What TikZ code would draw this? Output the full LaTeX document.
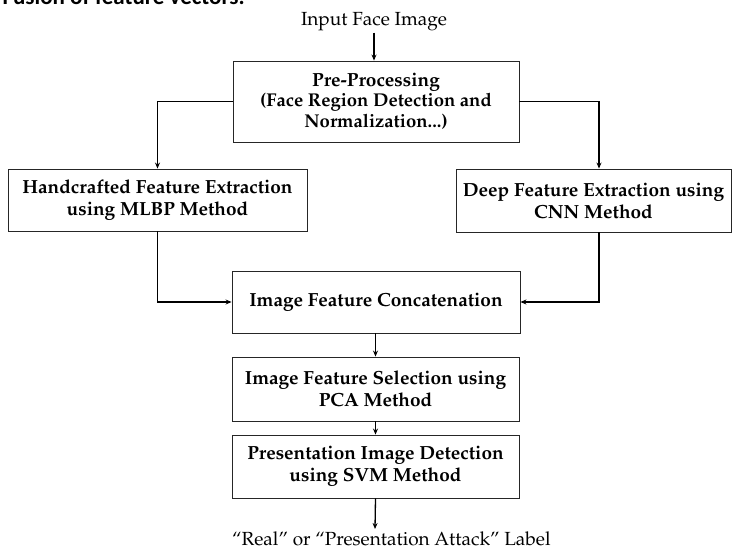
\documentclass[tikz,border=0pt]{standalone}
\usepackage{fontspec}
\usepackage[T1,TU]{fontenc}
\newfontfamily\capfont{Carlito}
\newcommand\palfont{\fontencoding{T1}\fontfamily{ppl}\selectfont}
\newcommand\subline{\palfont\bfseries\fontsize{18.5}{19}\selectfont}
\usetikzlibrary{arrows.meta}
\tikzset{
  x=1pt, y=-1pt,
  box/.style={draw=black!85, line width=0.9pt, rectangle, align=center, inner sep=0pt,
    font=\palfont\bfseries\fontsize{19}{22}\selectfont},
  plain/.style={inner sep=1pt, font=\palfont\fontsize{19}{22}\selectfont},
  arr/.style={draw=black, line width=1.3pt, -{Stealth[length=6pt,width=5pt]}}
}
\begin{document}
\begin{tikzpicture}
\useasboundingbox (0,0) rectangle (732,554);
\node[anchor=base east, inner sep=0pt, font=\capfont\bfseries\fontsize{23}{26}\selectfont] (cap) at (245,5) {Fusion of feature vectors.};
\node[plain, anchor=base] (in) at (374,26) {Input Face Image};
\node[box, minimum width=286pt, minimum height=81pt] (pre) at (376,101.5)
  {Pre-Processing\\[-2.5pt]{\subline(Face Region Detection and}\\[-1pt]{\subline Normalization...)}};
\node[box, minimum width=299pt, minimum height=62pt] (hand) at (157.5,200)
  {Handcrafted Feature Extraction\\using MLBP Method};
\node[box, minimum width=275pt, minimum height=63pt] (deep) at (593.5,200.5)
  {Deep Feature Extraction using\\CNN Method};
\node[box, minimum width=288pt, minimum height=62pt] (cat) at (376,302)
  {Image Feature Concatenation};
\node[box, minimum width=287pt, minimum height=64pt] (sel) at (375.5,389)
  {Image Feature Selection using\\PCA Method};
\node[box, minimum width=287pt, minimum height=63pt] (pid) at (375.5,466.5)
  {Presentation Image Detection\\using SVM Method};
\node[plain, anchor=base west, inner sep=0pt] (out) at (232,545) {``Real'' or ``Presentation Attack'' Label};
\coordinate (outtop) at (375,529);
\draw[arr] (in) -- (pre.north -| in);
\draw[arr] (pre.west) -| (hand.north);
\draw[arr] (pre.east) -| ([xshift=5.5pt]deep.north);
\draw[arr] (hand.south) |- (cat.west);
\draw[arr] ([xshift=5.5pt]deep.south) |- (cat.east);
\draw[arr] (cat.south -| sel.north) -- (sel.north);
\draw[arr] (sel.south) -- (pid.north);
\draw[arr] (pid.south) -- (outtop);
\end{tikzpicture}
\end{document}
